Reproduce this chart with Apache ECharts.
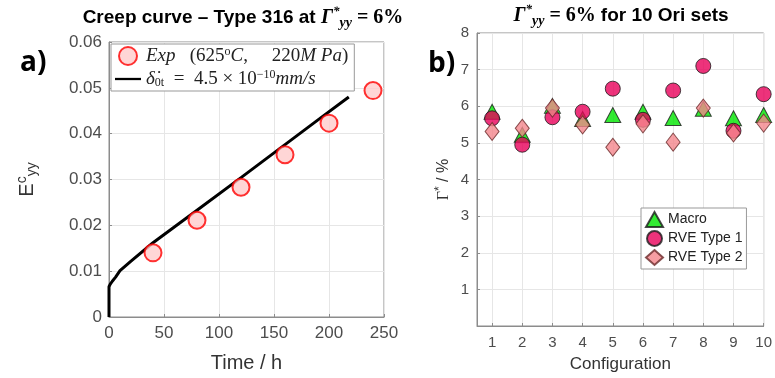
<!DOCTYPE html>
<html>
<head>
<meta charset="utf-8">
<script src="https://cdn.jsdelivr.net/npm/echarts@6/dist/echarts.min.js"></script>
<style>
  html, body { margin: 0; padding: 0; background: #fff; }
  #chart { width: 775px; height: 378px; }
</style>
</head>
<body>
<div id="chart"></div>
<script>
// a) creep curve
const timeExp = [40, 80, 120, 160, 200, 240];
const strainExp = [0.014, 0.0211, 0.0283, 0.0354, 0.0423, 0.0494];
const timeModel = [0, 0, 1, 3, 6, 10, 20, 40, 80, 120, 160, 190, 218];
const strainModel = [0, 0.0066, 0.0071, 0.0078, 0.0087, 0.0101, 0.0122, 0.0162, 0.0233, 0.0304, 0.0376, 0.043, 0.048];

// b) 10 orientation sets
const configs = [1, 2, 3, 4, 5, 6, 7, 8, 9, 10];
const macro = [5.85, 5.22, 6.01, 5.65, 5.76, 5.85, 5.68, 5.93, 5.67, 5.76];
const rve1 = [5.67, 4.95, 5.7, 5.85, 6.48, 5.63, 6.43, 7.1, 5.33, 6.33];
const rve2 = [5.31, 5.4, 5.95, 5.49, 4.88, 5.52, 5.02, 5.95, 5.27, 5.54];
const configTicks = [1, 2, 3, 4, 5, 6, 7, 8, 9, 10];

const sans = 'Liberation Sans';
const serif = 'Liberation Serif';
const labelColor = '#4d4d4d';
const boxColor = '#8c8c8c';
const gridColor = '#e6e6e6';

const chart = echarts.init(document.getElementById('chart'));

const zip = (xs, ys) => xs.map((x, i) => [x, ys[i]]);

const mathRich = {
  b: { fontFamily: sans, fontWeight: 'bold', fontSize: 19, color: '#000' },
  g: { fontFamily: serif, fontStyle: 'italic', fontWeight: 'bold', fontSize: 20, color: '#000' },
  sup: { fontFamily: serif, fontStyle: 'italic', fontWeight: 'bold', fontSize: 13, color: '#000', verticalAlign: 'top', lineHeight: 25 },
  sub: { fontFamily: serif, fontStyle: 'italic', fontWeight: 'bold', fontSize: 14, color: '#000', verticalAlign: 'bottom', lineHeight: 25, padding: [8, 0, 0, 0] },
  s: { fontFamily: serif, fontWeight: 'bold', fontSize: 20, color: '#000' }
};

const legendRich = {
  it: { fontFamily: serif, fontStyle: 'italic', fontSize: 19, color: '#222' },
  n: { fontFamily: serif, fontSize: 19, color: '#222' },
  sup: { fontFamily: serif, fontSize: 12, color: '#222', verticalAlign: 'top', padding: [0, 0, 8, 0] },
  sub: { fontFamily: serif, fontSize: 12, color: '#222', padding: [8, 0, 0, 0] }
};

const axisCommon = {
  axisLine: { show: true, onZero: false, lineStyle: { color: boxColor, width: 1 } },
  axisTick: { show: true, inside: true, length: 3, lineStyle: { color: boxColor } },
  splitLine: { show: true, lineStyle: { color: gridColor, width: 1 } }
};

chart.setOption({
  animation: false,
  backgroundColor: '#fff',
  title: [
    {
      text: '{b|Creep curve – Type 316 at }{g|Γ}{sup|*}{sub|yy}{s| = 6%}',
      left: 238, top: 0, textAlign: 'center',
      textStyle: { rich: mathRich }
    },
    {
      text: '{g|Γ}{sup|*}{sub|yy}{s| = 6% }{b|for 10 Ori sets}',
      left: 616, top: -2, textAlign: 'center',
      textStyle: { rich: mathRich }
    }
  ],
  grid: [
    { left: 109, top: 42, width: 275, height: 275, show: true, borderColor: boxColor, borderWidth: 1, backgroundColor: '#fff' },
    { left: 477, top: 33, width: 293, height: 293, show: true, borderColor: boxColor, borderWidth: 1, backgroundColor: '#fff' }
  ],
  xAxis: [
    Object.assign({}, axisCommon, {
      gridIndex: 0, type: 'value', min: 0, max: 250, interval: 50,
      axisLabel: { color: labelColor, fontFamily: sans, fontSize: 17, margin: 8 },
      name: 'Time / h', nameLocation: 'middle', nameGap: 36,
      nameTextStyle: { color: '#333', fontFamily: sans, fontSize: 20 }
    }),
    Object.assign({}, axisCommon, {
      gridIndex: 1, type: 'value', min: 0.5, max: 10,
      axisTick: { show: true, inside: true, length: 3, lineStyle: { color: boxColor }, customValues: configTicks },
      axisLabel: { color: labelColor, fontFamily: sans, fontSize: 15, margin: 9, customValues: configTicks },
      name: 'Configuration', nameLocation: 'middle', nameGap: 30,
      nameTextStyle: { color: '#333', fontFamily: sans, fontSize: 17 }
    })
  ],
  yAxis: [
    Object.assign({}, axisCommon, {
      gridIndex: 0, type: 'value', min: 0, max: 0.06, interval: 0.01,
      axisLabel: { color: labelColor, fontFamily: sans, fontSize: 17, margin: 7 },
      name: '{e|E}{sup|c}{sub|yy}', nameLocation: 'middle', nameGap: 70, nameRotate: 90,
      nameTextStyle: {
        color: '#333',
        rich: {
          e: { fontFamily: sans, fontSize: 20, color: '#333' },
          sup: { fontFamily: sans, fontSize: 14, color: '#333', verticalAlign: 'top', padding: [0, 0, 10, 0] },
          sub: { fontFamily: sans, fontSize: 14, color: '#333', padding: [10, 0, 0, 0] }
        }
      }
    }),
    Object.assign({}, axisCommon, {
      gridIndex: 1, type: 'value', min: 0, max: 8, interval: 1,
      axisLabel: { color: labelColor, fontFamily: sans, fontSize: 15, margin: 8, formatter: v => (v === 0 ? '' : String(v)) },
      name: '{g|Γ}{sup|*}{n| / %}', nameLocation: 'middle', nameGap: 23, nameRotate: 90,
      nameTextStyle: {
        color: '#333',
        rich: {
          g: { fontFamily: serif, fontSize: 16, color: '#333' },
          sup: { fontFamily: sans, fontSize: 12, color: '#333', padding: [0, 0, 8, 0] },
          n: { fontFamily: sans, fontSize: 16, color: '#333' }
        }
      }
    })
  ],
  legend: [
    {
      left: 111, top: 44, orient: 'vertical',
      backgroundColor: '#fff', borderColor: '#999', borderWidth: 1, borderRadius: 0,
      padding: [2, 6, 2, 4], itemGap: 3, itemWidth: 26, itemHeight: 18,
      data: [
        { name: 'exp', icon: 'circle' },
        { name: 'model', icon: 'path://M0,0 L40,0 L40,3.5 L0,3.5 Z' }
      ],
      formatter: name => name === 'exp'
        ? '{it|Exp}{n|   (625}{sup|o}{it|C}{n|,     220}{it|M Pa}{n|)}'
        : '{it|δ̇}{sub|0t}{n|  =  4.5 × 10}{sup|−10}{it|mm/s}',
      textStyle: { rich: legendRich, fontSize: 19 }
    },
    {
      left: 641, top: 208, orient: 'vertical',
      backgroundColor: '#fff', borderColor: '#999', borderWidth: 1, borderRadius: 0,
      padding: [3, 4, 3, 4], itemGap: 2, itemWidth: 17, itemHeight: 15,
      data: ['Macro', 'RVE Type 1', 'RVE Type 2'],
      textStyle: { fontFamily: sans, fontSize: 14, color: '#222' }
    }
  ],
  graphic: [
    { type: 'text', left: 20, top: 49, style: { text: 'a)', font: 'bold 28px "Open Sans"', fill: '#000' } },
    { type: 'text', left: 428, top: 50, style: { text: 'b)', font: 'bold 28px "Open Sans"', fill: '#000' } }
  ],
  series: [
    {
      name: 'model', type: 'line', xAxisIndex: 0, yAxisIndex: 0,
      data: zip(timeModel, strainModel),
      symbol: 'none', smooth: false,
      lineStyle: { color: '#000', width: 3 },
      itemStyle: { color: '#000' }, z: 2
    },
    {
      name: 'exp', type: 'scatter', xAxisIndex: 0, yAxisIndex: 0,
      data: zip(timeExp, strainExp),
      symbol: 'circle', symbolSize: 17,
      itemStyle: { color: '#ffcccc', borderColor: '#ff0000', borderWidth: 2 }, z: 3
    },
    {
      name: 'Macro', type: 'scatter', xAxisIndex: 1, yAxisIndex: 1,
      data: zip(configs, macro),
      symbol: 'triangle', symbolSize: [16, 15],
      itemStyle: { color: '#00e600', borderColor: '#1a1a1a', borderWidth: 1 }, z: 3
    },
    {
      name: 'RVE Type 1', type: 'scatter', xAxisIndex: 1, yAxisIndex: 1,
      data: zip(configs, rve1),
      symbol: 'circle', symbolSize: 15,
      itemStyle: { color: '#e8005a', borderColor: '#1a1a1a', borderWidth: 1 }, z: 4
    },
    {
      name: 'RVE Type 2', type: 'scatter', xAxisIndex: 1, yAxisIndex: 1,
      data: zip(configs, rve2),
      symbol: 'diamond', symbolSize: [14, 18],
      itemStyle: { color: '#f4868c', borderColor: '#6b2a2a', borderWidth: 1 }, z: 5
    }
  ]
});
</script>
</body>
</html>
